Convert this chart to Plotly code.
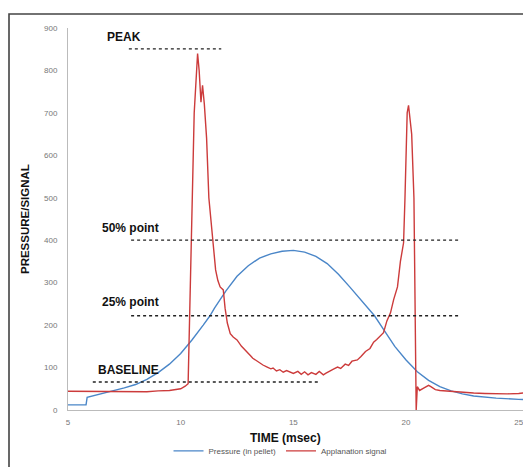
import plotly.graph_objects as go

# ---- data ----
pressure_t = [5.0, 5.8, 5.85, 6.5, 7.0, 7.5, 8.0, 8.5, 9.0, 9.5, 10.0, 10.5, 11.0, 11.3, 11.5,
              12.0, 12.5, 13.0, 13.5, 14.0, 14.5, 15.0, 15.5, 16.0, 16.5, 17.0, 17.5, 18.0,
              18.6, 19.0, 19.5, 20.0, 20.5, 21.0, 21.5, 22.0, 22.5, 23.0, 24.0, 25.0, 25.5]
pressure_v = [12, 12, 30, 38, 45, 52, 60, 72, 88, 108, 133, 165, 200, 222, 240,
              280, 315, 340, 358, 368, 374, 376, 372, 362, 345, 320, 290, 258,
              222, 190, 150, 118, 90, 70, 55, 45, 38, 33, 28, 25, 24]

signal_t = [5.0, 5.5, 6.0, 6.5, 7.0, 7.5, 8.0, 8.5, 9.0, 9.5, 10.0, 10.2, 10.33,
            10.45, 10.6, 10.75, 10.82, 10.9, 10.97, 11.05, 11.15, 11.25, 11.35, 11.44,
            11.55, 11.65, 11.75, 11.89, 11.97, 12.07, 12.2, 12.33, 12.5, 12.7, 12.96,
            13.1, 13.2, 13.35, 13.5, 13.65, 13.84, 14.0, 14.1, 14.25, 14.4, 14.55, 14.7,
            14.87, 15.0, 15.2, 15.35, 15.5, 15.65, 15.8, 16.0, 16.15, 16.33, 16.45, 16.6,
            16.8, 16.96, 17.1, 17.3, 17.45, 17.6, 17.84, 18.0, 18.2, 18.4, 18.56, 18.7,
            18.8, 19.0, 19.15, 19.31, 19.45, 19.62, 19.75, 19.89, 19.95, 20.0, 20.05,
            20.11, 20.18, 20.25, 20.35, 20.42, 20.45, 20.5, 20.6, 20.8, 21.0, 21.1, 21.3,
            21.5, 22.0, 22.5, 23.0, 23.5, 24.0, 24.5, 25.0, 25.5]
signal_v = [44, 44, 44, 43, 44, 43, 44, 43, 45, 46, 50, 56, 62,
            350, 700, 840, 800, 725, 765, 720, 640, 500, 440, 400,
            330, 305, 290, 283, 240, 205, 180, 172, 165, 150, 134,
            128, 122, 116, 110, 106, 101, 97, 99, 92, 95, 89, 93,
            90, 86, 91, 84, 90, 83, 88, 84, 91, 83, 87, 92,
            97, 101, 98, 108, 105, 115, 118, 126, 138, 145, 160, 166,
            172, 182, 210, 229, 260, 290, 350, 394, 495, 620, 700,
            718, 690, 650, 500, 100, 0, 55, 46, 52, 58, 55, 48,
            46, 44, 41, 40, 39, 38, 38, 39, 42]

# reference levels: label, value, x-start, x-end
ref_labels = ["PEAK", "50% point", "25% point", "BASELINE"]
ref_values = [851, 400, 222, 66]
ref_x0 = [7.7, 7.8, 7.8, 6.1]
ref_x1 = [11.8, 22.4, 22.4, 16.2]

x_ticks = [5, 10, 15, 20, 25]
y_ticks = [0, 100, 200, 300, 400, 500, 600, 700, 800, 900]

fig = go.Figure()
fig.add_trace(go.Scatter(x=pressure_t, y=pressure_v, mode="lines",
                         name="Pressure (in pellet)",
                         line=dict(color="#4a86c8", width=1.4)))
fig.add_trace(go.Scatter(x=signal_t, y=signal_v, mode="lines",
                         name="Applanation signal",
                         line=dict(color="#cc3b3b", width=1.4)))

label_x = [6.64, 6.42, 6.42, 6.24]
label_shift = [3, 3, 5, 3]
for lab, val, x0, x1, lx, ys in zip(ref_labels, ref_values, ref_x0, ref_x1, label_x, label_shift):
    fig.add_shape(type="line", x0=x0, x1=x1, y0=val, y1=val, xref="x", yref="y",
                  line=dict(color="#222", width=1.3, dash="dot"))
    fig.add_annotation(x=lx, y=val, xref="x", yref="y", text="<b>%s</b>" % lab,
                       showarrow=False, xanchor="left", yanchor="bottom", yshift=ys,
                       font=dict(family="Liberation Sans, Arial", size=12, color="#111"))

# axis titles
fig.add_annotation(x=0.47, y=-0.073, xref="paper", yref="paper", text="<b>TIME (msec)</b>",
                   showarrow=False, xanchor="center", yanchor="middle",
                   font=dict(family="Liberation Sans, Arial", size=12, color="#111"))
fig.add_annotation(x=-0.093, y=0.5, xref="paper", yref="paper", text="<b>PRESSURE/SIGNAL</b>",
                   showarrow=False, xanchor="center", yanchor="middle", textangle=-90,
                   font=dict(family="Liberation Sans, Arial", size=11.5, color="#111"))

# outer frame
fig.add_shape(type="rect", xref="paper", yref="paper", x0=-0.1277, x1=1.3, y0=-0.3, y1=1.0366,
              line=dict(color="#444", width=1.6), fillcolor="rgba(0,0,0,0)", layer="below")

fig.update_layout(
    width=523, height=459,
    margin=dict(l=60, r=1, t=20, b=57, autoexpand=False),
    paper_bgcolor="white", plot_bgcolor="white",
    font=dict(family="Liberation Sans, Arial", color="#555"),
    showlegend=True,
    legend=dict(orientation="h", x=0.46, xanchor="center", y=-0.107, yanchor="middle",
                font=dict(size=8, color="#555"), itemwidth=30, tracegroupgap=0),
    xaxis=dict(range=[5, 25.5], tickvals=x_ticks, ticktext=[str(v) for v in x_ticks],
               showgrid=False, zeroline=False, showline=True, linecolor="#bbb", linewidth=1,
               ticks="", ticklabelstandoff=4, tickfont=dict(size=8, color="#777")),
    yaxis=dict(range=[0, 900], tickvals=y_ticks, showgrid=False, zeroline=False,
               showline=True, linecolor="#bbb", linewidth=1, ticks="", ticklabelstandoff=8,
               tickfont=dict(size=8, color="#777")),
)

fig.write_html("out.html")
